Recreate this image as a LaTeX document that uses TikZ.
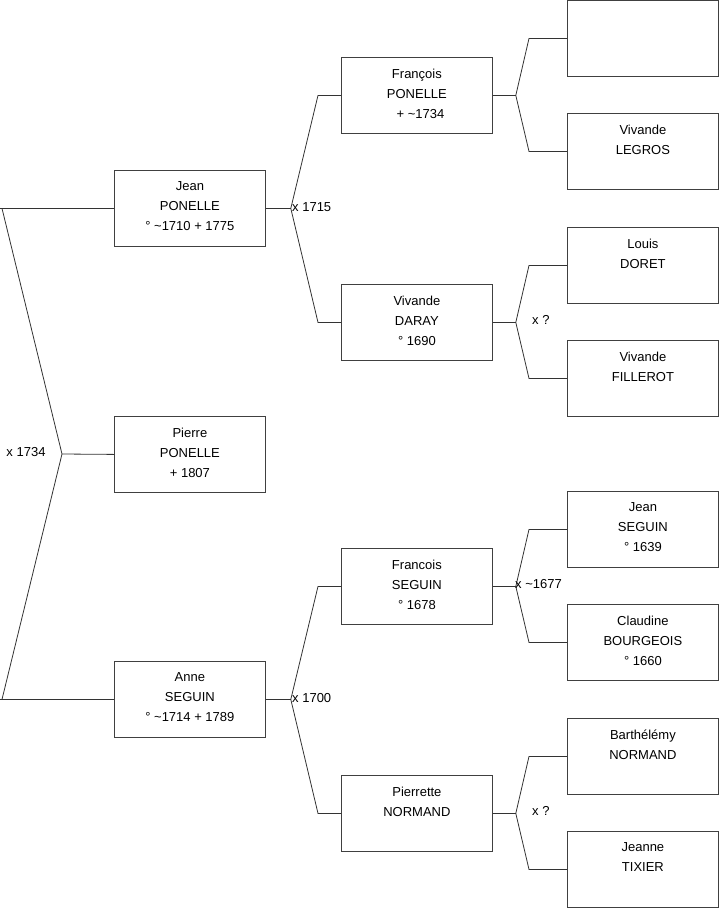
\documentclass[tikz,border=0pt]{standalone}
\usepackage{fontspec}
\setmainfont{Liberation Sans}

\begin{document}
\begin{tikzpicture}[x=1pt, y=-1pt, line width=0.8pt,
  person/.style={draw=black!75, anchor=north west, minimum width=151pt,
    minimum height=76pt, inner sep=0pt, align=center, text depth=4pt,
    font=\fontsize{13}{20}\selectfont},
  link/.style={draw=black!80},
  union/.style={inner sep=1pt, font=\fontsize{13}{16}\selectfont}]
  \useasboundingbox (0,0) rectangle (719,908);

  % --- generation 1 ---
  \node[person] (jean)   at (114,170) {Jean\\PONELLE\\° \textasciitilde1710 + 1775};
  \node[person] (pierre) at (114,416) {Pierre\\PONELLE\\+ 1807};
  \node[person] (anne)   at (114,661) {Anne\\SEGUIN\\° \textasciitilde1714 + 1789};

  % --- generation 2 ---
  \node[person] (francoisP) at (341,57)  {François\\PONELLE\\\ \ + \textasciitilde1734};
  \node[person] (vivandeD)  at (341,284) {Vivande\\DARAY\\° 1690};
  \node[person] (francoisS) at (341,548) {Francois\\SEGUIN\\° 1678};
  \node[person] (pierrette) at (341,775) {Pierrette\\NORMAND\\\phantom{X}};

  % --- generation 3 ---
  \node[person] (unknown)   at (567,0)   {};
  \node[person] (vivandeL)  at (567,113) {Vivande\\LEGROS\\\phantom{X}};
  \node[person] (louis)     at (567,227) {Louis\\DORET\\\phantom{X}};
  \node[person] (vivandeF)  at (567,340) {Vivande\\FILLEROT\\\phantom{X}};
  \node[person] (jeanS)     at (567,491) {Jean\\SEGUIN\\° 1639};
  \node[person] (claudine)  at (567,604) {Claudine\\BOURGEOIS\\° 1660};
  \node[person] (barth)     at (567,718) {Barthélémy\\NORMAND\\\phantom{X}};
  \node[person] (jeanne)    at (567,831) {Jeanne\\TIXIER\\\phantom{X}};

  % --- marriage x 1734 ---
  \coordinate (m0) at (62,454);
  \draw[link] (pierre.west) -- (m0);
  \draw[link] (m0) -- ([xshift=-112pt]jean.west) -- ([xshift=-114pt]jean.west);
  \draw[link] ([xshift=-114pt]jean.west) -- (jean.west);
  \draw[link] (m0) -- ([xshift=-112pt]anne.west) -- ([xshift=-114pt]anne.west);
  \draw[link] ([xshift=-114pt]anne.west) -- (anne.west);
  \node[union] (u0) at ([xshift=-36pt,yshift=2pt]m0) {x 1734};

  % --- parents of Jean and Anne ---
  \coordinate (m1) at ([xshift=25pt]jean.east);
  \draw[link] (jean.east) -- (m1);
  \draw[link] (m1) -- ([xshift=-23pt]francoisP.west) -- (francoisP.west);
  \draw[link] (m1) -- ([xshift=-23pt]vivandeD.west) -- (vivandeD.west);
  \node[union, anchor=west] (u1) at ([yshift=1pt]m1) {x 1715};

  \coordinate (m2) at ([xshift=25pt]anne.east);
  \draw[link] (anne.east) -- (m2);
  \draw[link] (m2) -- ([xshift=-23pt]francoisS.west) -- (francoisS.west);
  \draw[link] (m2) -- ([xshift=-23pt]pierrette.west) -- (pierrette.west);
  \node[union, anchor=west] (u2) at ([yshift=1pt]m2) {x 1700};

  % --- generation 3 forks ---
  \coordinate (m3) at ([xshift=23pt]francoisP.east);
  \draw[link] (francoisP.east) -- (m3);
  \draw[link] (m3) -- ([xshift=-38pt]unknown.west) -- (unknown.west);
  \draw[link] (m3) -- ([xshift=-38pt]vivandeL.west) -- (vivandeL.west);

  \coordinate (m4) at ([xshift=23pt]vivandeD.east);
  \draw[link] (vivandeD.east) -- (m4);
  \draw[link] (m4) -- ([xshift=-38pt]louis.west) -- (louis.west);
  \draw[link] (m4) -- ([xshift=-38pt]vivandeF.west) -- (vivandeF.west);
  \node[union, anchor=west] (u4) at ([xshift=15pt,yshift=2pt]m4) {x ?};

  \coordinate (m5) at ([xshift=23pt]francoisS.east);
  \draw[link] (francoisS.east) -- (m5);
  \draw[link] (m5) -- ([xshift=-38pt]jeanS.west) -- (jeanS.west);
  \draw[link] (m5) -- ([xshift=-38pt]claudine.west) -- (claudine.west);
  \node[union, anchor=west] (u5) at ([xshift=-2pt,yshift=2pt]m5) {x \textasciitilde1677};

  \coordinate (m6) at ([xshift=23pt]pierrette.east);
  \draw[link] (pierrette.east) -- (m6);
  \draw[link] (m6) -- ([xshift=-38pt]barth.west) -- (barth.west);
  \draw[link] (m6) -- ([xshift=-38pt]jeanne.west) -- (jeanne.west);
  \node[union, anchor=west] (u6) at ([xshift=15pt,yshift=2pt]m6) {x ?};
\end{tikzpicture}
\end{document}
